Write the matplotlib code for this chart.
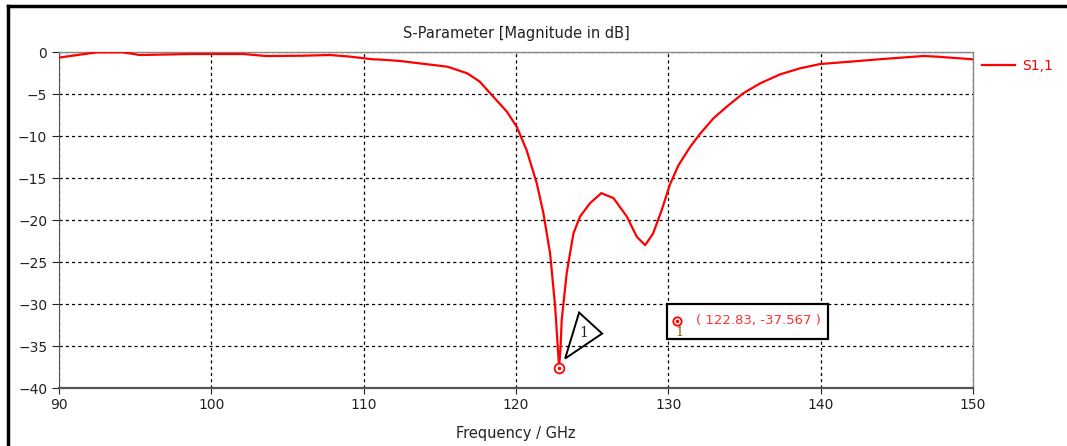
import numpy as np
import matplotlib
matplotlib.use("Agg")
import matplotlib.pyplot as plt
import matplotlib.transforms as mtransforms
from matplotlib.patches import Polygon, Rectangle
from matplotlib.lines import Line2D

# S1,1 magnitude (GHz, dB)
freq_ghz = [90.0, 91.2, 92.5, 94.2, 95.3, 98.6, 102.1, 103.6, 106.0, 107.8,
            109.1, 110.6, 111.1, 112.4, 113.3, 115.5, 116.8, 117.6, 118.3,
            119.4, 120.05, 120.7, 121.36, 121.8, 122.24, 122.57, 122.72,
            122.83, 122.93, 123.0, 123.33, 123.77, 124.2, 124.86, 125.6,
            126.4, 127.28, 127.93, 128.48, 129.0, 129.57, 130.1, 130.66,
            131.43, 132.1, 132.96, 133.84, 134.93, 136.03, 137.34, 138.65,
            139.97, 141.94, 144.1, 146.75, 147.6, 150.0]
s11_db = [-0.67, -0.36, -0.04, -0.04, -0.36, -0.24, -0.24, -0.48, -0.44, -0.36,
          -0.55, -0.87, -0.9, -1.07, -1.27, -1.75, -2.54, -3.5, -4.9,
          -7.1, -8.9, -11.7, -15.6, -19.2, -24.0, -30.3, -34.5,
          -37.567, -35.0, -31.9, -26.3, -21.6, -19.6, -18.0, -16.8,
          -17.4, -19.6, -22.0, -23.0, -21.6, -18.8, -15.8, -13.5,
          -11.3, -9.7, -7.9, -6.5, -4.9, -3.73, -2.66, -1.94,
          -1.43, -1.15, -0.83, -0.48, -0.55, -0.87]

marker_f, marker_db = 122.83, -37.567
readout_f, readout_db = 130.55, -32.0      # where the readout box sits
x_ticks = [90, 100, 110, 120, 130, 140, 150]
y_ticks = [0, -5, -10, -15, -20, -25, -30, -35, -40]

W, H = 1067, 446
fig = plt.figure(figsize=(W / 100, H / 100), dpi=100)
ax = fig.add_axes([59 / W, 1 - 388 / H, (973 - 59) / W, (388 - 52) / H])

ax.plot(freq_ghz, s11_db, color="#ff0000", lw=1.6, label="S1,1", zorder=3)
ax.set_xlim(90, 150)
ax.set_ylim(-40, 0)
ax.set_xticks(x_ticks)
ax.set_yticks(y_ticks)
ax.grid(True, color="black", ls=(0, (2.5, 2.5)), lw=0.9)
ax.tick_params(axis="both", labelsize=10, colors="#222222", length=4,
               direction="out")
ax.tick_params(axis="y", length=5)
for s in ["top", "right"]:
    ax.spines[s].set_color("#888888")
    ax.spines[s].set_linewidth(1.0)
ax.spines["left"].set_color("#555555")
ax.spines["bottom"].set_color("#555555")
ax.spines["bottom"].set_linewidth(1.6)

ax.set_title("S-Parameter [Magnitude in dB]", fontsize=10.5, color="#222222",
             pad=10)
ax.set_xlabel("Frequency / GHz", fontsize=10.5, color="#222222", labelpad=10)

# marker at the minimum
ax.plot([marker_f], [marker_db], marker="o", ms=7, mfc="white", mec="#ff0000",
        mew=1.3, zorder=5, clip_on=False)
ax.plot([marker_f], [marker_db], marker="o", ms=1.5, color="#ff0000", zorder=6)

# triangle flag with the marker number, offsets in pixels
tri_trans = mtransforms.IdentityTransform() + mtransforms.ScaledTranslation(
    marker_f, marker_db, ax.transData)
ax.add_patch(Polygon([(6, 9), (20, 55), (43, 34)], closed=True, fill=False,
                     edgecolor="black", lw=1.4, transform=tri_trans, zorder=6))
ax.text(25, 35, "1", transform=tri_trans, fontsize=10, family="DejaVu Serif",
        ha="center", va="center", color="#222222", zorder=7)

# value readout box, offsets in pixels from its marker
box_trans = mtransforms.IdentityTransform() + mtransforms.ScaledTranslation(
    readout_f, readout_db, ax.transData)
ax.add_patch(Rectangle((-10, -18), 161, 35, fc="white", ec="black", lw=1.6,
                       transform=box_trans, zorder=7))
ax.text(19, 0, "( %.2f, %.3f )" % (marker_f, marker_db), transform=box_trans,
        fontsize=9.5, color="#ff3030", ha="left", va="center", zorder=8)
ax.plot([readout_f], [readout_db], marker="o", ms=6, mfc="white",
        mec="#ff0000", mew=1.3, zorder=8)
ax.plot([readout_f], [readout_db], marker="o", ms=1.5, color="#ff0000",
        zorder=9)
ax.text(3, -12, "1", transform=box_trans, fontsize=9, color="#806000",
        ha="center", va="center", zorder=9, family="DejaVu Serif")

ax.legend(loc="center left", bbox_to_anchor=(982 / W, 1 - 66 / H),
          bbox_transform=fig.transFigure, frameon=False, fontsize=10,
          labelcolor="#ff0000", handlelength=2.4, handletextpad=0.5,
          borderaxespad=0, borderpad=0)

# outer window border (top and left)
fig.add_artist(Line2D([8 / W, 1], [1 - 6 / H, 1 - 6 / H], color="black", lw=2.5,
                      transform=fig.transFigure))
fig.add_artist(Line2D([8 / W, 8 / W], [0, 1 - 6 / H], color="black", lw=2.5,
                      transform=fig.transFigure))

fig.savefig("out.png", dpi=100)
